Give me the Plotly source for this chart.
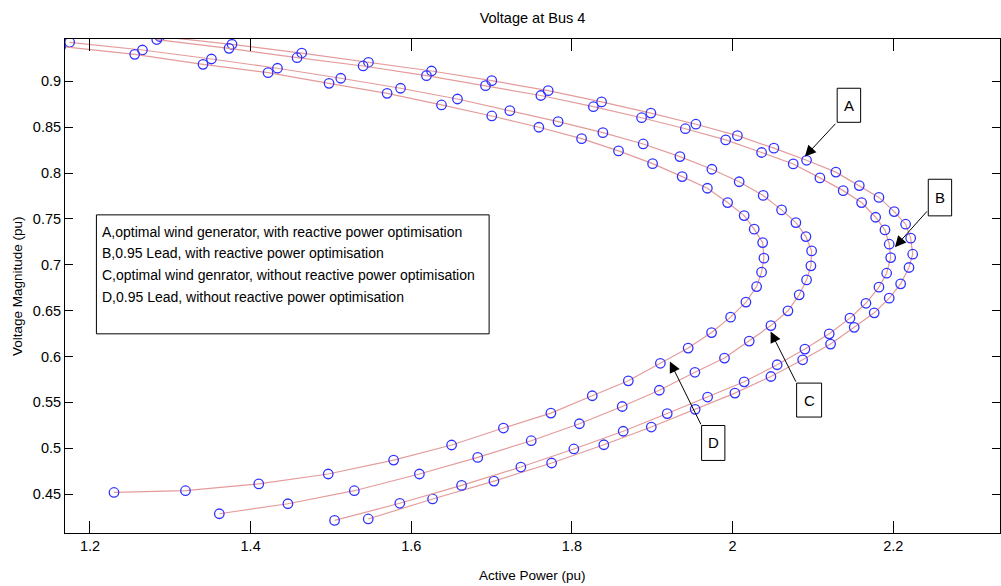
import plotly.graph_objects as go

# ---------------- data ----------------
a_p = [1.2868, 1.3768, 1.4636, 1.5467, 1.6252, 1.7002, 1.7704, 1.8369, 1.8983, 1.9543,
       2.0060, 2.0514, 2.0921, 2.1286, 2.1577, 2.1822, 2.2012, 2.2154, 2.2217, 2.2242,
       2.2196, 2.2092, 2.1950, 2.1763, 2.1514, 2.1220, 2.0872, 2.0477, 2.0029, 1.9534,
       1.8988, 1.8397, 1.7747, 1.7029, 1.6265, 1.5464]
a_v = [0.9488, 0.9403, 0.9308, 0.9207, 0.9112, 0.9007, 0.8898, 0.8775, 0.8653, 0.8532,
       0.8407, 0.8271, 0.8139, 0.8010, 0.7863, 0.7734, 0.7580, 0.7442, 0.7290, 0.7115,
       0.6970, 0.6792, 0.6636, 0.6476, 0.6318, 0.6135, 0.5964, 0.5782, 0.5601, 0.5424,
       0.5231, 0.5038, 0.4839, 0.4642, 0.4447, 0.4229]

b_p = [1.2831, 1.3731, 1.4578, 1.5400, 1.6189, 1.6924, 1.7613, 1.8267, 1.8867, 1.9412,
       1.9914, 2.0361, 2.0755, 2.1087, 2.1377, 2.1606, 2.1781, 2.1897, 2.1950, 2.1968,
       2.1918, 2.1822, 2.1660, 2.1461, 2.1203, 2.0900, 2.0555, 2.0144, 1.9689, 1.9186,
       1.8638, 1.8024, 1.7364, 1.6626, 1.5857, 1.5045]
b_v = [0.9455, 0.9359, 0.9257, 0.9167, 0.9061, 0.8952, 0.8845, 0.8723, 0.8603, 0.8483,
       0.8361, 0.8224, 0.8099, 0.7947, 0.7808, 0.7678, 0.7518, 0.7380, 0.7224, 0.7078,
       0.6908, 0.6756, 0.6580, 0.6418, 0.6247, 0.6081, 0.5910, 0.5724, 0.5558, 0.5378,
       0.5185, 0.4992, 0.4795, 0.4595, 0.4400, 0.4213]

c_p = [1.1747, 1.2653, 1.3512, 1.4334, 1.5122, 1.5866, 1.6575, 1.7227, 1.7828, 1.8385,
       1.8887, 1.9344, 1.9742, 2.0082, 2.0381, 2.0610, 2.0788, 2.0913, 2.0984, 2.0975,
       2.0921, 2.0829, 2.0689, 2.0477, 2.0207, 1.9899, 1.9531, 1.9088, 1.8626, 1.8093,
       1.7493, 1.6827, 1.6101, 1.5291, 1.4464, 1.3610]
c_v = [0.9425, 0.9341, 0.9243, 0.9142, 0.9033, 0.8924, 0.8807, 0.8680, 0.8560, 0.8440,
       0.8317, 0.8179, 0.8041, 0.7905, 0.7756, 0.7598, 0.7460, 0.7307, 0.7151, 0.6988,
       0.6835, 0.6672, 0.6498, 0.6337, 0.6168, 0.5983, 0.5828, 0.5632, 0.5455, 0.5267,
       0.5082, 0.4900, 0.4719, 0.4537, 0.4395, 0.4286]

d_p = [1.1635, 1.2557, 1.3407, 1.4217, 1.4976, 1.5699, 1.6376, 1.7002, 1.7588, 1.8120,
       1.8580, 1.9004, 1.9372, 1.9686, 1.9938, 2.0144, 2.0269, 2.0374, 2.0390, 2.0361,
       2.0299, 2.0166, 1.9975, 1.9738, 1.9447, 1.9101, 1.8702, 1.8253, 1.7738, 1.7147,
       1.6502, 1.5780, 1.4966, 1.4101, 1.3189, 1.2299]
d_v = [0.9379, 0.9294, 0.9185, 0.9094, 0.8978, 0.8869, 0.8742, 0.8622, 0.8499, 0.8375,
       0.8241, 0.8102, 0.7961, 0.7834, 0.7678, 0.7536, 0.7388, 0.7242, 0.7072, 0.6919,
       0.6762, 0.6593, 0.6429, 0.6261, 0.6092, 0.5926, 0.5735, 0.5572, 0.5383, 0.5220,
       0.5035, 0.4871, 0.4719, 0.4611, 0.4537, 0.4518]

series = [("A", a_p, a_v), ("B", b_p, b_v), ("C", c_p, c_v), ("D", d_p, d_v)]

x_ticks = [1.2, 1.4, 1.6, 1.8, 2.0, 2.2]
x_tick_labels = ["1.2", "1.4", "1.6", "1.8", "2", "2.2"]
y_ticks = [0.45, 0.5, 0.55, 0.6, 0.65, 0.7, 0.75, 0.8, 0.85, 0.9]
y_tick_labels = ["0.45", "0.5", "0.55", "0.6", "0.65", "0.7", "0.75", "0.8", "0.85", "0.9"]

legend_lines = [
    "A,optimal wind generator, with reactive power optimisation",
    "B,0.95 Lead, with reactive power optimisation",
    "C,optimal wind genrator, without reactive power optimisation",
    "D,0.95 Lead, without reactive power optimisation",
]

# label boxes: (letter, box x0, x1, y0, y1, arrow tail x, y, arrow tip x, y)
labels = [
    ("A", 2.1302, 2.1594, 0.8553, 0.8924, 2.1297, 0.8553, 2.0900, 0.8179),
    ("B", 2.2436, 2.2727, 0.7533, 0.7932, 2.2436, 0.7598, 2.2021, 0.7192),
    ("C", 2.0797, 2.1108, 0.5340, 0.5710, 2.0797, 0.5710, 2.0473, 0.6272),
    ("D", 1.9614, 1.9904, 0.4867, 0.5248, 1.9614, 0.5245, 1.9219, 0.5945),
]
legend_box = (1.2080, 1.6969, 0.6247, 0.7544)
legend_text_x = 1.2128
legend_text_y = [0.7362, 0.7126, 0.6890, 0.6654]

FONT = "Liberation Sans, Arial, sans-serif"

fig = go.Figure()
for name, xs, ys in series:
    fig.add_trace(go.Scatter(
        x=xs, y=ys, mode="lines+markers", name=name,
        line=dict(color="rgb(228,155,155)", width=1.2),
        marker=dict(symbol="circle-open", size=9.5, color="rgb(50,50,255)",
                    line=dict(width=1.3, color="rgb(50,50,255)")),
        showlegend=False,
    ))

shapes = []
annotations = []
# legend box
x0, x1, y0, y1 = legend_box
shapes.append(dict(type="rect", xref="x", yref="y", x0=x0, x1=x1, y0=y0, y1=y1,
                   line=dict(color="black", width=1), fillcolor="white", layer="above"))
for txt, ty in zip(legend_lines, legend_text_y):
    annotations.append(dict(x=legend_text_x, y=ty, xref="x", yref="y", text=txt,
                            showarrow=False, xanchor="left", yanchor="middle",
                            font=dict(family=FONT, size=14, color="black")))

for letter, bx0, bx1, by0, by1, tx, ty, hx, hy in labels:
    shapes.append(dict(type="rect", xref="x", yref="y", x0=bx0, x1=bx1, y0=by0, y1=by1,
                       line=dict(color="black", width=1), fillcolor="white", layer="above"))
    annotations.append(dict(x=(bx0 + bx1) / 2, y=(by0 + by1) / 2, xref="x", yref="y",
                            text=letter, showarrow=False, xanchor="center", yanchor="middle",
                            font=dict(family=FONT, size=15, color="black")))
    annotations.append(dict(x=hx, y=hy, ax=tx, ay=ty, xref="x", yref="y",
                            axref="x", ayref="y", text="", showarrow=True,
                            arrowhead=2, arrowsize=2.2, arrowwidth=1, arrowcolor="black",
                            standoff=0, startstandoff=0))

# axis titles
annotations.append(dict(x=0.5, y=0, xref="paper", yref="paper", text="Active Power (pu)",
                        showarrow=False, xanchor="center", yanchor="middle", yshift=-42,
                        font=dict(family=FONT, size=13.5, color="black")))
annotations.append(dict(x=0, y=0.5, xref="paper", yref="paper", text="Voltage Magnitude (pu)",
                        showarrow=False, xanchor="center", yanchor="middle", xshift=-48,
                        textangle=-90, font=dict(family=FONT, size=13.5, color="black")))

fig.update_layout(
    width=1001, height=586,
    margin=dict(l=65, r=1, t=39, b=53),
    paper_bgcolor="white", plot_bgcolor="white",
    title=dict(text="Voltage at Bus 4", x=0.5, xref="paper", xanchor="center",
               y=1 - 17.5 / 586, yref="container", yanchor="middle",
               font=dict(family=FONT, size=14.5, color="black")),
    shapes=shapes, annotations=annotations,
    font=dict(family=FONT, size=14, color="black"),
)
fig.update_xaxes(range=[1.1689, 2.3329], tickvals=x_ticks, ticktext=x_tick_labels,
                 ticks="inside", ticklen=12, tickwidth=1, tickcolor="black",
                 showline=True, linecolor="black", linewidth=1, mirror="ticks",
                 showgrid=False, zeroline=False,
                 tickfont=dict(family=FONT, size=14.5, color="black"))
fig.update_yaxes(range=[0.4076, 0.9461], tickvals=y_ticks, ticktext=y_tick_labels,
                 ticks="inside", ticklen=8, tickwidth=1, tickcolor="black",
                 showline=True, linecolor="black", linewidth=1, mirror="ticks",
                 showgrid=False, zeroline=False,
                 tickfont=dict(family=FONT, size=14.5, color="black"))

fig.write_html("out.html")
